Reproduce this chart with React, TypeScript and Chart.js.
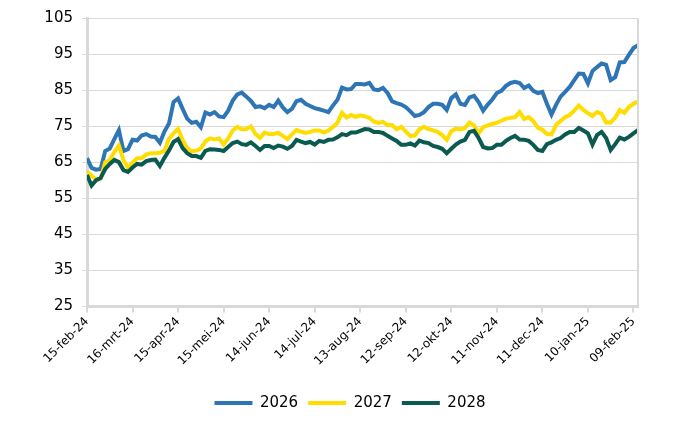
import React, { useEffect, useRef } from "react";
import { Chart, registerables } from "chart.js";

Chart.register(...registerables);

// Tick labels of the x axis (every 30 days from 15-feb-24)
const tickLabels = [
  "15-feb-24", "16-mrt-24", "15-apr-24", "15-mei-24", "14-jun-24", "14-jul-24",
  "13-aug-24", "12-sep-24", "12-okt-24", "11-nov-24", "11-dec-24", "10-jan-25", "09-feb-25",
];
const tickStepDays = 30;
const sampleStepDays = 3;
const lastDay = 363;

const seriesNames = ["2026", "2027", "2028"];
const seriesColors = ["#2E75B6", "#FFDD00", "#0A5A50"];

const values2026 = [
  66.2, 63.5, 63.0, 63.2, 68.2, 68.9, 71.5, 74.0, 68.2, 68.7,
  71.3, 71.1, 72.5, 72.9, 72.2, 72.1, 70.5, 73.6, 75.8, 81.8,
  82.8, 79.9, 77.2, 76.0, 76.3, 74.8, 78.9, 78.3, 79.0, 77.8,
  77.6, 79.4, 82.2, 83.9, 84.4, 83.3, 82.1, 80.4, 80.6, 80.1,
  81.0, 80.4, 82.2, 80.3, 79.0, 79.9, 82.0, 82.4, 81.3, 80.7,
  80.1, 79.8, 79.4, 79.0, 80.8, 82.4, 85.8, 85.3, 85.4, 86.8,
  86.8, 86.7, 87.1, 85.3, 85.1, 85.7, 84.3, 82.0, 81.5, 81.1,
  80.4, 79.2, 77.9, 78.2, 79.0, 80.4, 81.3, 81.3, 81.0, 79.6,
  82.9, 83.9, 81.3, 81.0, 83.1, 83.5, 81.8, 79.4, 81.1, 82.5,
  84.3, 84.9, 86.3, 87.1, 87.4, 87.1, 85.7, 86.4, 84.9, 84.3,
  84.6, 81.3, 78.3, 81.0, 83.3, 84.6, 86.0, 87.9, 89.7, 89.6,
  87.0, 90.4, 91.5, 92.5, 92.1, 87.9, 88.7, 92.8, 92.9, 94.9,
  96.8, 97.6,
];

const values2027 = [
  62.5, 61.3, 60.3, 60.5, 65.1, 65.7, 67.9, 69.7, 65.7, 63.5,
  64.9, 66.2, 66.2, 67.2, 67.6, 67.6, 67.7, 68.2, 71.5, 73.1,
  74.3, 71.3, 69.0, 68.1, 68.3, 68.9, 70.9, 71.7, 71.4, 71.7,
  70.0, 71.7, 73.9, 74.9, 74.2, 74.3, 75.0, 72.9, 71.8, 73.3,
  72.9, 72.9, 73.2, 72.4, 71.5, 72.8, 74.0, 73.6, 73.2, 73.5,
  73.9, 73.9, 73.3, 73.9, 74.9, 76.0, 78.8, 77.5, 78.2, 77.7,
  78.1, 77.8, 77.4, 76.4, 76.0, 76.3, 75.4, 75.4, 74.2, 74.9,
  73.6, 72.4, 72.5, 74.2, 74.9, 74.3, 73.9, 73.5, 72.6, 71.3,
  73.7, 74.4, 74.2, 74.6, 76.1, 75.3, 73.1, 74.8, 75.3, 75.7,
  76.1, 76.6, 77.2, 77.4, 77.6, 79.0, 77.1, 77.6, 76.5, 74.7,
  74.1, 72.9, 72.8, 75.4, 76.5, 77.6, 78.2, 79.4, 80.8, 79.6,
  78.7, 77.9, 79.0, 78.5, 76.1, 76.1, 77.5, 79.6, 78.8, 80.4,
  81.3, 81.9,
];

const values2028 = [
  61.5, 58.6, 60.1, 60.7, 63.2, 64.6, 65.7, 65.1, 62.9, 62.4,
  63.6, 64.6, 64.4, 65.4, 65.7, 65.8, 64.0, 66.3, 68.3, 70.7,
  71.5, 69.0, 67.6, 66.8, 66.8, 66.3, 68.2, 68.7, 68.6, 68.5,
  68.2, 69.3, 70.4, 70.8, 70.1, 69.9, 70.6, 69.6, 68.5, 69.6,
  69.6, 69.0, 69.7, 69.4, 68.8, 69.6, 71.3, 70.8, 70.4, 70.7,
  70.0, 71.0, 70.7, 71.3, 71.4, 72.0, 72.9, 72.6, 73.3, 73.3,
  73.8, 74.3, 74.2, 73.5, 73.5, 73.2, 72.4, 71.7, 71.0, 69.9,
  69.9, 70.3, 69.7, 71.1, 70.6, 70.4, 69.6, 69.3, 68.8, 67.6,
  68.8, 70.0, 70.8, 71.3, 73.5, 73.8, 71.8, 69.3, 68.9, 69.0,
  69.9, 69.9, 71.0, 71.8, 72.4, 71.4, 71.3, 71.0, 69.9, 68.5,
  68.2, 70.1, 70.6, 71.3, 71.8, 72.8, 73.5, 73.5, 74.6, 73.9,
  73.1, 70.0, 72.6, 73.5, 71.8, 68.5, 70.1, 71.9, 71.4, 72.1,
  73.1, 74.0,
];

const yMin = 25;
const yMax = 105;
const yStep = 10;

const FONT = "'DejaVu Sans', 'Liberation Sans', Arial, sans-serif";
const GRID = "#D9D9D9";

function toPoints(vals: number[]) {
  return vals.map((v, i) => ({ x: Math.min(i * sampleStepDays, lastDay), y: v }));
}

const rightBorder = {
  id: "rightBorder",
  afterDraw(chart: any) {
    const { ctx, chartArea } = chart;
    ctx.save();
    ctx.strokeStyle = GRID;
    ctx.lineWidth = 2;
    ctx.beginPath();
    ctx.moveTo(chartArea.right, chartArea.top);
    ctx.lineTo(chartArea.right, chartArea.bottom);
    ctx.stroke();
    ctx.restore();
  },
};

export default function App() {
  const ref = useRef<HTMLCanvasElement | null>(null);

  useEffect(() => {
    if (!ref.current) return;
    const all = [values2026, values2027, values2028];
    const chart = new Chart(ref.current, {
      type: "line",
      data: {
        datasets: all.map((vals, i) => ({
          label: seriesNames[i],
          data: toPoints(vals),
          borderColor: seriesColors[i],
          backgroundColor: seriesColors[i],
          borderWidth: 4,
          pointRadius: 0,
          tension: 0,
          order: 3 - i,
        })),
      },
      options: {
        responsive: false,
        animation: false,
        layout: { padding: { top: 18.5, right: 0, bottom: 9.5, left: 0 } },
        plugins: {
          tooltip: { enabled: false },
          legend: {
            position: "bottom",
            labels: {
              boxWidth: 38,
              boxHeight: 4,
              padding: 10,
              color: "#000",
              font: { family: FONT, size: 15 },
              generateLabels: (c: any) =>
                c.data.datasets.map((ds: any, i: number) => ({
                  text: ds.label,
                  fillStyle: ds.borderColor,
                  strokeStyle: ds.borderColor,
                  lineWidth: 0,
                  hidden: false,
                  datasetIndex: i,
                  fontColor: "#000",
                })),
            },
          },
        },
        scales: {
          x: {
            type: "linear",
            min: 0,
            max: lastDay,
            afterBuildTicks: (s: any) => {
              s.ticks = tickLabels.map((_, i) => ({ value: i * tickStepDays }));
            },
            afterFit: (s: any) => {
              s.height = 79;
            },
            ticks: {
              autoSkip: false,
              maxRotation: 45,
              minRotation: 45,
              padding: 2,
              color: "#000",
              font: { family: FONT, size: 12 },
              callback: (v: any) => tickLabels[Math.round(Number(v) / tickStepDays)] ?? "",
            },
            grid: {
              drawOnChartArea: false,
              drawTicks: true,
              tickLength: 6,
              color: GRID,
              lineWidth: 2,
            },
            border: { display: true, color: GRID, width: 3 },
          },
          y: {
            min: yMin,
            max: yMax,
            afterFit: (s: any) => {
              s.width = 87;
            },
            ticks: {
              stepSize: yStep,
              padding: 9,
              color: "#000",
              font: { family: FONT, size: 15 },
            },
            grid: {
              color: GRID,
              lineWidth: 1,
              tickLength: 5,
              drawTicks: true,
            },
            border: { display: true, color: GRID, width: 3 },
          },
          yRight: {
            position: "right",
            display: true,
            min: yMin,
            max: yMax,
            afterFit: (s: any) => {
              s.width = 62;
            },
            ticks: { display: false },
            grid: { display: false, drawTicks: false },
            border: { display: false },
          },
        },
      },
      plugins: [rightBorder],
    } as any);
    return () => chart.destroy();
  }, []);

  return (
    <div style={{ position: "fixed", left: 0, top: 0, width: 700, height: 430, background: "#fff" }}>
      <canvas ref={ref} width={700} height={430} style={{ display: "block" }} />
    </div>
  );
}
